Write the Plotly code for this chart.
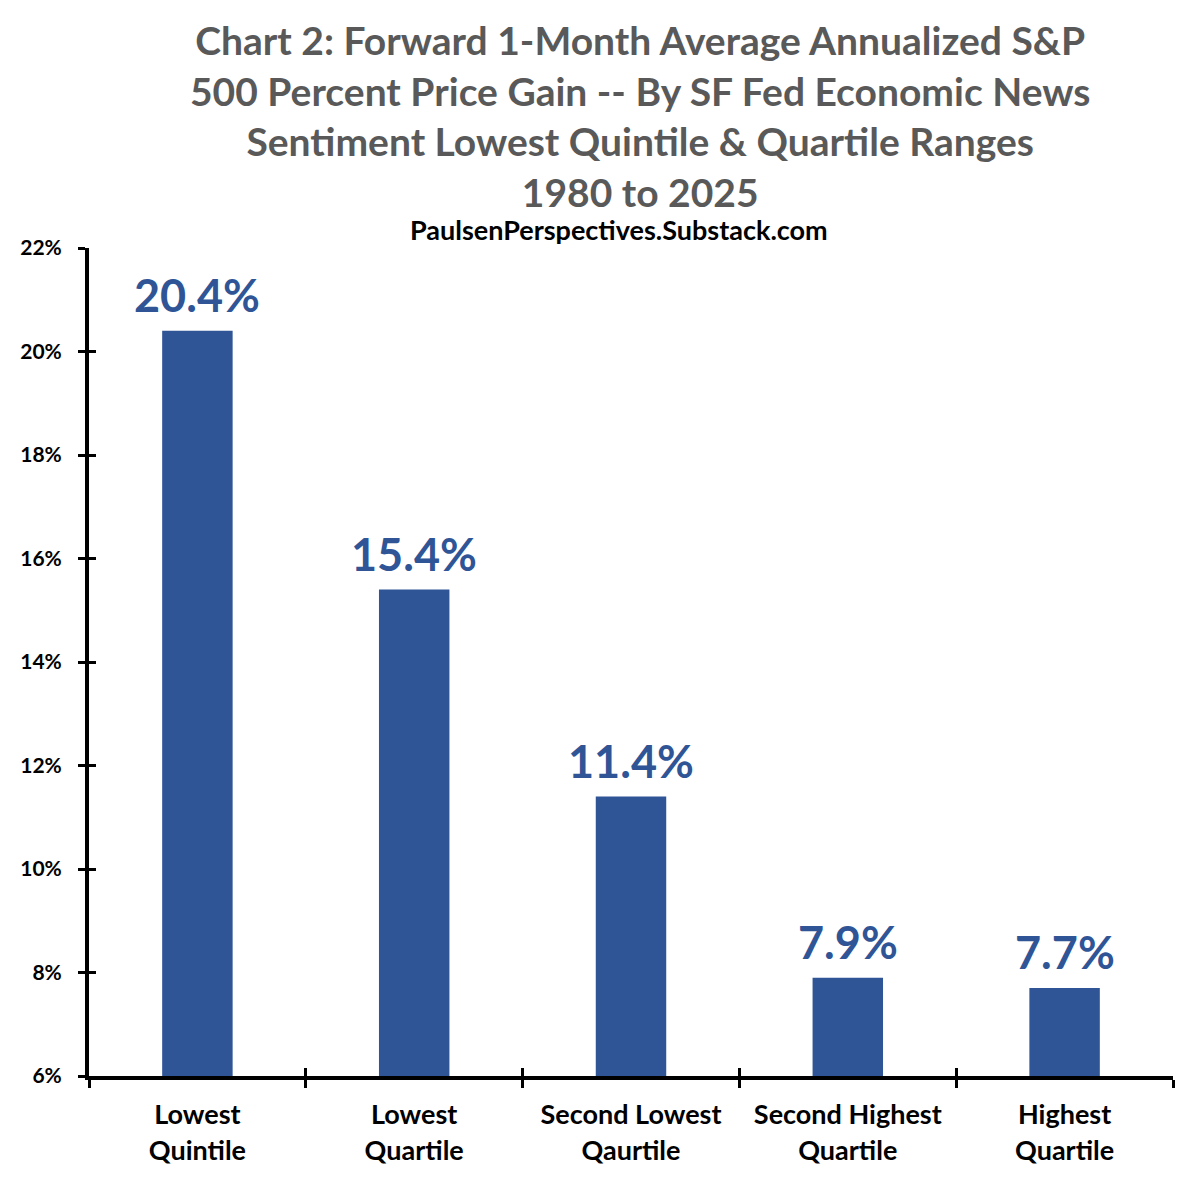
import plotly.graph_objects as go

categories = ["Lowest<br>Quintile", "Lowest<br>Quartile", "Second Lowest<br>Qaurtile",
              "Second Highest<br>Quartile", "Highest<br>Quartile"]
values = [20.4, 15.4, 11.4, 7.9, 7.7]
value_labels = ["20.4%", "15.4%", "11.4%", "7.9%", "7.7%"]
y_ticks = [6, 8, 10, 12, 14, 16, 18, 20, 22]
y_tick_labels = ["6%", "8%", "10%", "12%", "14%", "16%", "18%", "20%", "22%"]

title_text = ("Chart 2: Forward 1-Month Average Annualized S&P<br>"
              "500 Percent Price Gain -- By SF Fed Economic News<br>"
              "Sentiment Lowest Quintile & Quartile Ranges<br>"
              "1980 to 2025")
subtitle_text = "PaulsenPerspectives.Substack.com"

BLUE = "#2F5597"
FONT = "Lato"

fig = go.Figure()
fig.add_trace(go.Bar(
    x=categories, y=values,
    marker=dict(color=BLUE, line=dict(width=0)), width=0.325,
    hoverinfo="x+y",
))
# invisible trace for overlaid axes (inside tick halves)
fig.add_trace(go.Scatter(x=categories, y=values, xaxis="x2", yaxis="y2",
                         mode="markers", marker=dict(opacity=0), hoverinfo="skip",
                         showlegend=False))

annotations = [
    dict(text=lab, x=cat, y=val, xref="x", yref="y", yanchor="bottom",
         xanchor="center", yshift=7, showarrow=False,
         font=dict(family=FONT, size=45, color=BLUE, weight="bold"))
    for cat, val, lab in zip(categories, values, value_labels)
]
annotations += [
    dict(text=title_text, xref="paper", yref="paper", x=0.508, y=1.0,
         yshift=233, xanchor="center", yanchor="top", showarrow=False,
         font=dict(family=FONT, size=39, color="#595959", weight="bold")),
    dict(text=subtitle_text, xref="paper", yref="paper", x=0.489, y=1.0,
         yshift=37, xanchor="center", yanchor="top", showarrow=False,
         font=dict(family=FONT, size=27, color="#000000", weight="bold")),
]

fig.update_layout(
    width=1189, height=1171,
    margin=dict(l=71, r=24, t=240, b=103),
    plot_bgcolor="white", paper_bgcolor="white",
    showlegend=False,
    xaxis=dict(type="category", showline=True, linecolor="black", linewidth=4,
               ticks="outside", ticklen=8, tickwidth=3, tickcolor="black",
               tickson="boundaries", showgrid=False, ticklabelstandoff=12,
               tickfont=dict(family=FONT, size=27, color="#000000", weight="bold")),
    yaxis=dict(range=[6, 22], tickvals=y_ticks, ticktext=y_tick_labels,
               showline=True, linecolor="black", linewidth=4,
               ticks="outside", ticklen=7, tickwidth=3, tickcolor="black",
               showgrid=False, zeroline=False, ticklabelstandoff=12,
               tickfont=dict(family=FONT, size=21, color="#000000", weight="bold")),
    xaxis2=dict(type="category", overlaying="x", showline=False, showticklabels=False,
                ticks="inside", ticklen=8, tickwidth=3, tickcolor="black",
                tickson="boundaries", showgrid=False, side="bottom",
                matches="x"),
    yaxis2=dict(range=[6, 22], tickvals=y_ticks, overlaying="y", showline=False,
                showticklabels=False, ticks="inside", ticklen=7, tickwidth=3,
                tickcolor="black", showgrid=False, zeroline=False, side="left"),
    annotations=annotations,
)

fig.write_html("out.html")
